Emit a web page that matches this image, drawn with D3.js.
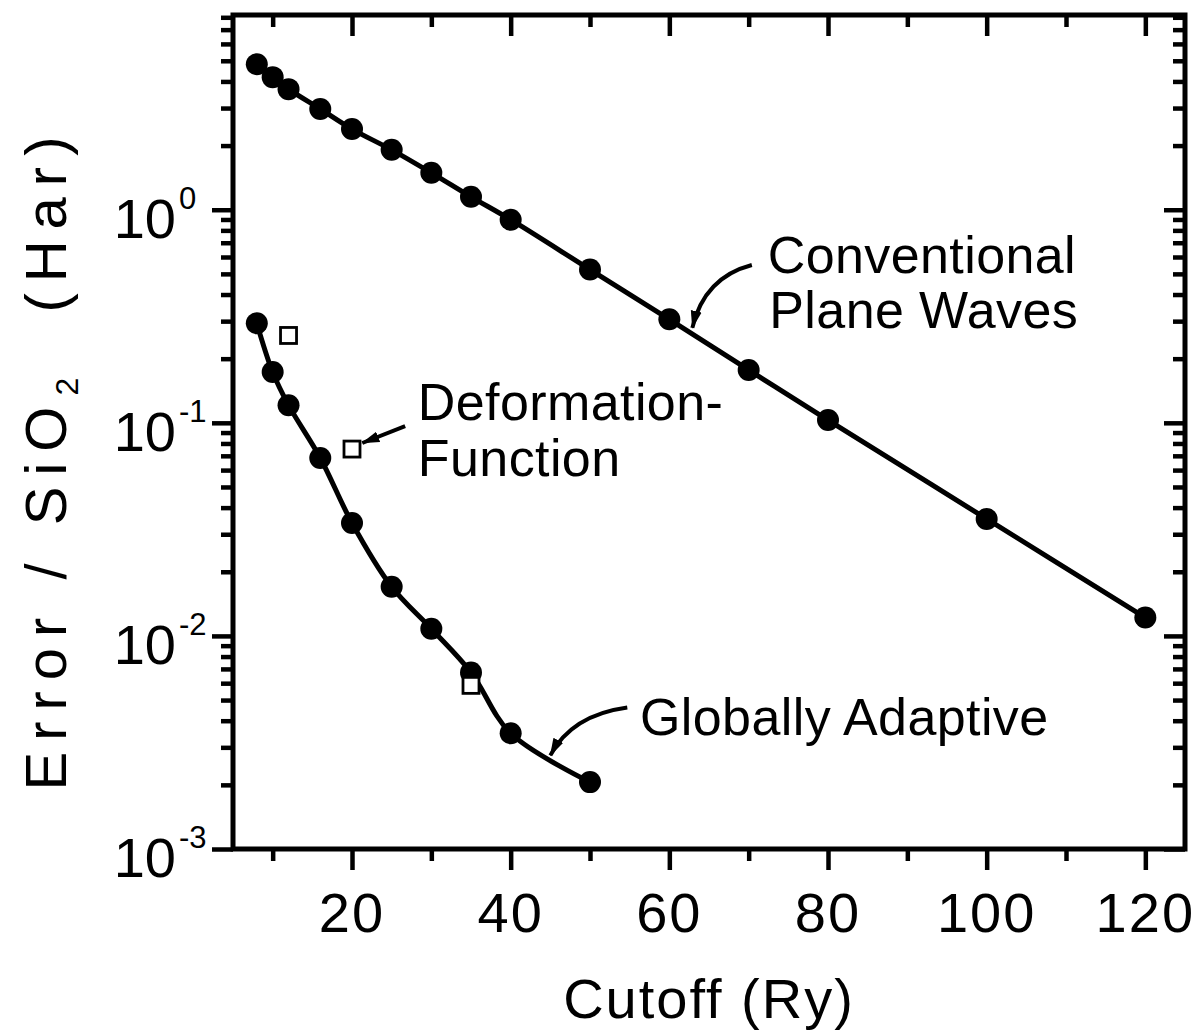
<!DOCTYPE html>
<html>
<head>
<meta charset="utf-8">
<script src="https://cdn.jsdelivr.net/npm/d3@7"></script>
<style>
  body { margin: 0; background: #fff; }
  text { font-family: "Liberation Sans", Arial, sans-serif; fill: #000; }
</style>
</head>
<body>
<svg id="chart" width="1194" height="1036"></svg>
<script>
// cutoff (Ry) vs error per SiO2 (Har)
var cutoffPW = [8, 10, 12, 16, 20, 25, 30, 35, 40, 50, 60, 70, 80, 100, 120];
var errorPW  = [4.82, 4.19, 3.68, 2.97, 2.39, 1.91, 1.49, 1.15, 0.898, 0.524, 0.306, 0.177, 0.103, 0.0354, 0.0122];
var cutoffGA = [8, 10, 12, 16, 20, 25, 30, 35, 40, 50];
var errorGA  = [0.293, 0.173, 0.121, 0.0684, 0.0339, 0.0170, 0.0108, 0.00674, 0.00349, 0.00206];
var cutoffDF = [12, 20, 35];
var errorDF  = [0.257, 0.0753, 0.00586];

var xMajor = [20, 40, 60, 80, 100, 120];
var xMinor = [10, 30, 50, 70, 90, 110];
var yMajor = [1e-3, 1e-2, 1e-1, 1];
var yExp   = ["-3", "-2", "-1", "0"];

var svg = d3.select("#chart");
svg.append("rect").attr("width", 1194).attr("height", 1036).attr("fill", "#fff");

var margin = {left: 233, right: 1185, top: 15, bottom: 849};

var x = d3.scaleLinear().domain([5, 125]).range([margin.left, margin.right]);
var y = d3.scaleLog().domain([1e-3, 8.2]).range([margin.bottom, margin.top]);

var yMinor = [];
yMajor.forEach(function(d){
  for (var k = 2; k <= 9; k++){ if (d*k < 8.2) yMinor.push(d*k); }
});

/***********************************************************************************************************/
// axes: bottom/left ticks outward, top/right inward

var axes = [
  {mk: function(){ return d3.axisBottom(x); }, t: "translate(0," + margin.bottom + ")", maj: xMajor, min: xMinor},
  {mk: function(){ return d3.axisBottom(x); }, t: "translate(0," + margin.top + ")",    maj: xMajor, min: xMinor},
  {mk: function(){ return d3.axisLeft(y); },   t: "translate(" + margin.left + ",0)",   maj: yMajor, min: yMinor},
  {mk: function(){ return d3.axisLeft(y); },   t: "translate(" + margin.right + ",0)",  maj: yMajor, min: yMinor}
];

axes.forEach(function(a){
  var gMaj = svg.append("g").attr("transform", a.t)
    .call(a.mk().tickValues(a.maj).tickSize(21).tickFormat(""));
  var gMin = svg.append("g").attr("transform", a.t)
    .call(a.mk().tickValues(a.min).tickSize(12).tickFormat(""));
  [gMaj, gMin].forEach(function(g){
    g.select(".domain").remove();
    g.selectAll(".tick line").attr("stroke", "#000").attr("stroke-width", 4.5);
  });
});

svg.append("rect")
  .attr("x", margin.left).attr("y", margin.top)
  .attr("width", margin.right - margin.left).attr("height", margin.bottom - margin.top)
  .attr("fill", "none").attr("stroke", "#000").attr("stroke-width", 5);

// tick labels
svg.append("g").selectAll("text").data(xMajor).join("text")
  .attr("x", function(d){ return x(d); })
  .attr("y", 932)
  .attr("text-anchor", "middle")
  .attr("font-size", 56)
  .attr("letter-spacing", 2)
  .text(function(d){ return d; });

var yl = svg.append("g").selectAll("g").data(yMajor).join("g");
yl.append("text")
  .attr("x", 176)
  .attr("y", function(d){ return y(d) + 28; })
  .attr("text-anchor", "end")
  .attr("font-size", 56)
  .text("10");
yl.append("text")
  .attr("x", 179)
  .attr("y", function(d){ return y(d) - 1; })
  .attr("font-size", 31)
  .text(function(d, i){ return yExp[i]; });

// axis titles
svg.append("text")
  .attr("x", (margin.left + margin.right) / 2)
  .attr("y", 1018)
  .attr("text-anchor", "middle")
  .attr("font-size", 56)
  .attr("letter-spacing", 2)
  .text("Cutoff (Ry)");

var yt = svg.append("text")
  .attr("transform", "translate(66,458) rotate(-90)")
  .attr("text-anchor", "middle")
  .attr("font-size", 58)
  .attr("letter-spacing", 11)
  .style("white-space", "pre");
yt.append("tspan").text("Error / SiO");
yt.append("tspan").attr("font-size", 32).attr("dy", 12).text("2");
yt.append("tspan").attr("dy", -12).text("  (Har)");

/***********************************************************************************************************/
// data

var line = d3.line()
  .x(function(d){ return x(d[0]); })
  .y(function(d){ return y(d[1]); })
  .curve(d3.curveCatmullRom.alpha(0.5));

var pw = d3.zip(cutoffPW, errorPW);
var ga = d3.zip(cutoffGA, errorGA);
var df = d3.zip(cutoffDF, errorDF);

[pw, ga].forEach(function(s){
  svg.append("path").datum(s)
    .attr("d", line)
    .attr("fill", "none")
    .attr("stroke", "#000")
    .attr("stroke-width", 5);
  svg.append("g").selectAll("circle").data(s).join("circle")
    .attr("cx", function(d){ return x(d[0]); })
    .attr("cy", function(d){ return y(d[1]); })
    .attr("r", 11)
    .attr("fill", "#000");
});

svg.append("g").selectAll("rect").data(df).join("rect")
  .attr("x", function(d){ return x(d[0]) - 8; })
  .attr("y", function(d){ return y(d[1]) - 8; })
  .attr("width", 16).attr("height", 16)
  .attr("fill", "#fff")
  .attr("stroke", "#000")
  .attr("stroke-width", 2.8);

/***********************************************************************************************************/
// annotations (anchored in data units)

svg.append("defs").append("marker")
  .attr("id", "head")
  .attr("markerUnits", "userSpaceOnUse")
  .attr("viewBox", "0 -6 18 12")
  .attr("refX", 17).attr("refY", 0)
  .attr("markerWidth", 18).attr("markerHeight", 12)
  .attr("orient", "auto")
  .append("path").attr("d", "M0,-5.5L18,0L0,5.5Z").attr("fill", "#000");

var arrows = [
  [[70.4, 0.550], [64.4, 0.481], [62.9, 0.279]],
  [[26.7, 0.0965], [24.0, 0.088], [21.3, 0.0804]],
  [[54.7, 0.00461], [47.7, 0.00425], [45.0, 0.00275]]
];

arrows.forEach(function(a){
  svg.append("path")
    .attr("d", "M" + x(a[0][0]) + "," + y(a[0][1]) +
               "Q" + x(a[1][0]) + "," + y(a[1][1]) + " " + x(a[2][0]) + "," + y(a[2][1]))
    .attr("fill", "none")
    .attr("stroke", "#000")
    .attr("stroke-width", 4)
    .attr("marker-end", "url(#head)");
});

var labels = [
  {t: "Conventional",      cx: 72.4, cy: 0.505},
  {t: "Plane Waves",       cx: 72.6, cy: 0.279},
  {t: "Deformation-",      cx: 28.3, cy: 0.1031},
  {t: "Function",          cx: 28.3, cy: 0.0563},
  {t: "Globally Adaptive", cx: 56.3, cy: 0.00343}
];

svg.append("g").selectAll("text").data(labels).join("text")
  .attr("x", function(d){ return x(d.cx); })
  .attr("y", function(d){ return y(d.cy); })
  .attr("font-size", 52)
  .attr("letter-spacing", 0.4)
  .text(function(d){ return d.t; });
</script>
</body>
</html>
